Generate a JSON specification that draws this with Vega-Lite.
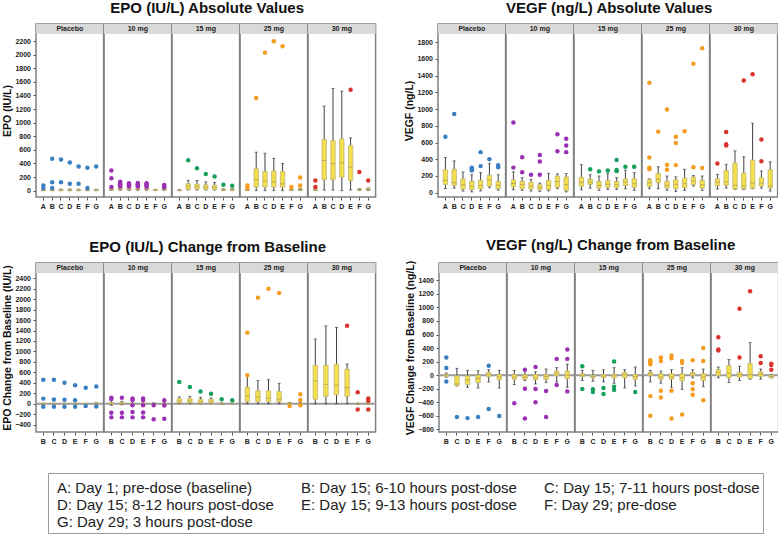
{
"$schema": "https://vega.github.io/schema/vega-lite/v6.json",
"background": "white",
"padding": {"left": 2, "top": 0, "right": 0, "bottom": 0},
"spacing": 28,
"resolve": {"scale": {"shape": "independent"}, "legend": {"shape": "independent"}},
"datasets": {
"ea": [
{"d":"Placebo","t":"A","lo":0,"q1":2,"md":6,"q3":12,"hi":20},
{"d":"Placebo","t":"B","lo":0,"q1":3,"md":8,"q3":16,"hi":25},
{"d":"Placebo","t":"C","lo":0,"q1":3,"md":8,"q3":15,"hi":24},
{"d":"Placebo","t":"D","lo":0,"q1":3,"md":8,"q3":16,"hi":25},
{"d":"Placebo","t":"E","lo":0,"q1":3,"md":8,"q3":15,"hi":22},
{"d":"Placebo","t":"F","lo":0,"q1":3,"md":7,"q3":14,"hi":20},
{"d":"Placebo","t":"G","lo":0,"q1":3,"md":7,"q3":14,"hi":22},
{"d":"10 mg","t":"A","lo":2,"q1":8,"md":15,"q3":25,"hi":35},
{"d":"10 mg","t":"B","lo":5,"q1":15,"md":25,"q3":35,"hi":45},
{"d":"10 mg","t":"C","lo":5,"q1":15,"md":22,"q3":32,"hi":45},
{"d":"10 mg","t":"D","lo":5,"q1":15,"md":22,"q3":32,"hi":45},
{"d":"10 mg","t":"E","lo":5,"q1":15,"md":22,"q3":32,"hi":45},
{"d":"10 mg","t":"F","lo":2,"q1":5,"md":10,"q3":15,"hi":20},
{"d":"10 mg","t":"G","lo":5,"q1":12,"md":20,"q3":30,"hi":40},
{"d":"15 mg","t":"A","lo":0,"q1":3,"md":6,"q3":10,"hi":15},
{"d":"15 mg","t":"B","lo":10,"q1":20,"md":64,"q3":102,"hi":152},
{"d":"15 mg","t":"C","lo":10,"q1":25,"md":60,"q3":95,"hi":150},
{"d":"15 mg","t":"D","lo":10,"q1":20,"md":50,"q3":85,"hi":130},
{"d":"15 mg","t":"E","lo":10,"q1":20,"md":50,"q3":80,"hi":120},
{"d":"15 mg","t":"F","lo":2,"q1":6,"md":12,"q3":20,"hi":28},
{"d":"15 mg","t":"G","lo":2,"q1":8,"md":14,"q3":24,"hi":35},
{"d":"25 mg","t":"A","lo":2,"q1":8,"md":12,"q3":20,"hi":30},
{"d":"25 mg","t":"B","lo":0,"q1":54,"md":161,"q3":322,"hi":566},
{"d":"25 mg","t":"C","lo":0,"q1":54,"md":142,"q3":283,"hi":550},
{"d":"25 mg","t":"D","lo":0,"q1":54,"md":127,"q3":290,"hi":475},
{"d":"25 mg","t":"E","lo":0,"q1":54,"md":102,"q3":283,"hi":400},
{"d":"25 mg","t":"F","lo":2,"q1":8,"md":12,"q3":20,"hi":30},
{"d":"25 mg","t":"G","lo":2,"q1":8,"md":15,"q3":25,"hi":35},
{"d":"30 mg","t":"A","lo":2,"q1":6,"md":10,"q3":18,"hi":25},
{"d":"30 mg","t":"B","lo":8,"q1":161,"md":444,"q3":752,"hi":1244},
{"d":"30 mg","t":"C","lo":8,"q1":161,"md":400,"q3":737,"hi":1503},
{"d":"30 mg","t":"D","lo":0,"q1":200,"md":410,"q3":761,"hi":1464},
{"d":"30 mg","t":"E","lo":10,"q1":151,"md":346,"q3":664,"hi":776},
{"d":"30 mg","t":"F","lo":2,"q1":8,"md":15,"q3":22,"hi":30},
{"d":"30 mg","t":"G","lo":2,"q1":10,"md":18,"q3":30,"hi":40},
{"d":"Placebo","t":"A","v":78},{"d":"Placebo","t":"A","v":39},
{"d":"Placebo","t":"B","v":468},{"d":"Placebo","t":"B","v":125},{"d":"Placebo","t":"B","v":39},
{"d":"Placebo","t":"C","v":458},{"d":"Placebo","t":"C","v":125},
{"d":"Placebo","t":"D","v":415},{"d":"Placebo","t":"D","v":102},
{"d":"Placebo","t":"E","v":356},{"d":"Placebo","t":"E","v":102},
{"d":"Placebo","t":"F","v":337},{"d":"Placebo","t":"F","v":39},
{"d":"Placebo","t":"G","v":356},
{"d":"10 mg","t":"A","v":298},{"d":"10 mg","t":"A","v":183},{"d":"10 mg","t":"A","v":54},
{"d":"10 mg","t":"B","v":130},{"d":"10 mg","t":"B","v":112},{"d":"10 mg","t":"B","v":95},{"d":"10 mg","t":"B","v":78},{"d":"10 mg","t":"B","v":60},
{"d":"10 mg","t":"C","v":110},{"d":"10 mg","t":"C","v":95},{"d":"10 mg","t":"C","v":78},{"d":"10 mg","t":"C","v":60},
{"d":"10 mg","t":"D","v":112},{"d":"10 mg","t":"D","v":95},{"d":"10 mg","t":"D","v":78},{"d":"10 mg","t":"D","v":60},
{"d":"10 mg","t":"E","v":110},{"d":"10 mg","t":"E","v":92},{"d":"10 mg","t":"E","v":75},{"d":"10 mg","t":"E","v":58},
{"d":"10 mg","t":"G","v":85},{"d":"10 mg","t":"G","v":68},{"d":"10 mg","t":"G","v":50},
{"d":"15 mg","t":"B","v":449},{"d":"15 mg","t":"C","v":330},{"d":"15 mg","t":"D","v":244},{"d":"15 mg","t":"E","v":210},{"d":"15 mg","t":"F","v":88},{"d":"15 mg","t":"G","v":73},
{"d":"25 mg","t":"A","v":78},{"d":"25 mg","t":"A","v":39},
{"d":"25 mg","t":"B","v":1362},{"d":"25 mg","t":"C","v":2030},{"d":"25 mg","t":"D","v":2196},{"d":"25 mg","t":"E","v":2123},
{"d":"25 mg","t":"F","v":55},{"d":"25 mg","t":"G","v":195},{"d":"25 mg","t":"G","v":75},
{"d":"30 mg","t":"A","v":151},{"d":"30 mg","t":"A","v":54},
{"d":"30 mg","t":"E","v":1484},{"d":"30 mg","t":"F","v":273},{"d":"30 mg","t":"G","v":151}
],
"va": [
{"d":"Placebo","t":"A","lo":50,"q1":100,"md":148,"q3":275,"hi":420},
{"d":"Placebo","t":"B","lo":55,"q1":88,"md":120,"q3":280,"hi":380},
{"d":"Placebo","t":"C","lo":20,"q1":45,"md":95,"q3":165,"hi":248},
{"d":"Placebo","t":"D","lo":10,"q1":38,"md":80,"q3":136,"hi":215},
{"d":"Placebo","t":"E","lo":22,"q1":45,"md":88,"q3":148,"hi":240},
{"d":"Placebo","t":"F","lo":60,"q1":80,"md":150,"q3":208,"hi":348},
{"d":"Placebo","t":"G","lo":30,"q1":48,"md":92,"q3":136,"hi":215},
{"d":"10 mg","t":"A","lo":35,"q1":70,"md":110,"q3":155,"hi":250},
{"d":"10 mg","t":"B","lo":28,"q1":48,"md":96,"q3":136,"hi":180},
{"d":"10 mg","t":"C","lo":20,"q1":45,"md":80,"q3":125,"hi":160},
{"d":"10 mg","t":"D","lo":16,"q1":35,"md":60,"q3":96,"hi":115},
{"d":"10 mg","t":"E","lo":22,"q1":40,"md":88,"q3":148,"hi":232},
{"d":"10 mg","t":"F","lo":48,"q1":65,"md":135,"q3":200,"hi":225},
{"d":"10 mg","t":"G","lo":10,"q1":28,"md":96,"q3":188,"hi":230},
{"d":"15 mg","t":"A","lo":35,"q1":78,"md":125,"q3":185,"hi":335},
{"d":"15 mg","t":"B","lo":55,"q1":100,"md":125,"q3":160,"hi":215},
{"d":"15 mg","t":"C","lo":28,"q1":56,"md":88,"q3":136,"hi":200},
{"d":"15 mg","t":"D","lo":40,"q1":65,"md":100,"q3":148,"hi":230},
{"d":"15 mg","t":"E","lo":40,"q1":60,"md":96,"q3":136,"hi":180},
{"d":"15 mg","t":"F","lo":48,"q1":88,"md":128,"q3":165,"hi":270},
{"d":"15 mg","t":"G","lo":28,"q1":65,"md":108,"q3":168,"hi":240},
{"d":"25 mg","t":"A","lo":48,"q1":75,"md":115,"q3":155,"hi":165},
{"d":"25 mg","t":"B","lo":48,"q1":120,"md":160,"q3":228,"hi":310},
{"d":"25 mg","t":"C","lo":28,"q1":56,"md":88,"q3":136,"hi":200},
{"d":"25 mg","t":"D","lo":16,"q1":48,"md":100,"q3":156,"hi":190},
{"d":"25 mg","t":"E","lo":28,"q1":60,"md":108,"q3":176,"hi":280},
{"d":"25 mg","t":"F","lo":80,"q1":96,"md":140,"q3":188,"hi":205},
{"d":"25 mg","t":"G","lo":28,"q1":56,"md":96,"q3":148,"hi":200},
{"d":"30 mg","t":"A","lo":45,"q1":85,"md":125,"q3":165,"hi":220},
{"d":"30 mg","t":"B","lo":55,"q1":90,"md":130,"q3":265,"hi":340},
{"d":"30 mg","t":"C","lo":40,"q1":45,"md":90,"q3":355,"hi":500},
{"d":"30 mg","t":"D","lo":40,"q1":48,"md":80,"q3":235,"hi":430},
{"d":"30 mg","t":"E","lo":48,"q1":55,"md":115,"q3":390,"hi":830},
{"d":"30 mg","t":"F","lo":55,"q1":80,"md":115,"q3":180,"hi":260},
{"d":"30 mg","t":"G","lo":20,"q1":55,"md":80,"q3":275,"hi":370},
{"d":"Placebo","t":"A","v":670},{"d":"Placebo","t":"B","v":940},
{"d":"Placebo","t":"D","v":300},{"d":"Placebo","t":"D","v":282},{"d":"Placebo","t":"D","v":265},
{"d":"Placebo","t":"E","v":485},{"d":"Placebo","t":"E","v":318},
{"d":"Placebo","t":"F","v":400},{"d":"Placebo","t":"G","v":330},{"d":"Placebo","t":"G","v":305},
{"d":"10 mg","t":"A","v":840},{"d":"10 mg","t":"A","v":300},
{"d":"10 mg","t":"B","v":425},{"d":"10 mg","t":"B","v":245},
{"d":"10 mg","t":"C","v":215},
{"d":"10 mg","t":"D","v":450},{"d":"10 mg","t":"D","v":372},{"d":"10 mg","t":"D","v":215},
{"d":"10 mg","t":"F","v":700},{"d":"10 mg","t":"F","v":495},
{"d":"10 mg","t":"G","v":645},{"d":"10 mg","t":"G","v":565},{"d":"10 mg","t":"G","v":485},
{"d":"15 mg","t":"B","v":280},{"d":"15 mg","t":"C","v":255},{"d":"15 mg","t":"D","v":265},
{"d":"15 mg","t":"E","v":390},{"d":"15 mg","t":"E","v":272},{"d":"15 mg","t":"E","v":258},
{"d":"15 mg","t":"F","v":310},{"d":"15 mg","t":"G","v":310},
{"d":"25 mg","t":"A","v":1315},{"d":"25 mg","t":"A","v":420},{"d":"25 mg","t":"A","v":300},{"d":"25 mg","t":"A","v":282},
{"d":"25 mg","t":"B","v":730},
{"d":"25 mg","t":"C","v":995},{"d":"25 mg","t":"C","v":335},{"d":"25 mg","t":"C","v":275},
{"d":"25 mg","t":"D","v":670},{"d":"25 mg","t":"D","v":595},{"d":"25 mg","t":"D","v":330},
{"d":"25 mg","t":"E","v":735},
{"d":"25 mg","t":"F","v":1540},{"d":"25 mg","t":"F","v":305},
{"d":"25 mg","t":"G","v":1725},{"d":"25 mg","t":"G","v":295},
{"d":"30 mg","t":"A","v":350},
{"d":"30 mg","t":"B","v":725},{"d":"30 mg","t":"B","v":580},{"d":"30 mg","t":"B","v":565},
{"d":"30 mg","t":"D","v":1340},{"d":"30 mg","t":"E","v":1415},
{"d":"30 mg","t":"F","v":635},{"d":"30 mg","t":"F","v":375}
],
"ec": [
{"d":"Placebo","t":"B","lo":-10,"q1":-5,"md":0,"q3":5,"hi":10},
{"d":"Placebo","t":"C","lo":-5,"q1":-2,"md":0,"q3":5,"hi":8},
{"d":"Placebo","t":"D","lo":-5,"q1":-2,"md":0,"q3":5,"hi":8},
{"d":"Placebo","t":"E","lo":-5,"q1":-2,"md":0,"q3":4,"hi":8},
{"d":"Placebo","t":"F","lo":-8,"q1":-3,"md":0,"q3":3,"hi":6},
{"d":"Placebo","t":"G","lo":-5,"q1":0,"md":5,"q3":15,"hi":20},
{"d":"10 mg","t":"B","lo":-30,"q1":-5,"md":8,"q3":20,"hi":60},
{"d":"10 mg","t":"C","lo":-20,"q1":-5,"md":5,"q3":18,"hi":45},
{"d":"10 mg","t":"D","lo":-15,"q1":-5,"md":3,"q3":15,"hi":40},
{"d":"10 mg","t":"E","lo":-15,"q1":-5,"md":3,"q3":15,"hi":40},
{"d":"10 mg","t":"F","lo":-10,"q1":-5,"md":0,"q3":5,"hi":15},
{"d":"10 mg","t":"G","lo":-10,"q1":-3,"md":2,"q3":8,"hi":20},
{"d":"15 mg","t":"B","lo":0,"q1":13,"md":52,"q3":97,"hi":130},
{"d":"15 mg","t":"C","lo":0,"q1":15,"md":50,"q3":95,"hi":140},
{"d":"15 mg","t":"D","lo":0,"q1":10,"md":45,"q3":85,"hi":120},
{"d":"15 mg","t":"E","lo":0,"q1":10,"md":45,"q3":85,"hi":110},
{"d":"15 mg","t":"F","lo":-5,"q1":0,"md":3,"q3":10,"hi":15},
{"d":"15 mg","t":"G","lo":-5,"q1":0,"md":3,"q3":8,"hi":12},
{"d":"25 mg","t":"B","lo":0,"q1":39,"md":148,"q3":316,"hi":530},
{"d":"25 mg","t":"C","lo":0,"q1":39,"md":135,"q3":245,"hi":445},
{"d":"25 mg","t":"D","lo":0,"q1":39,"md":103,"q3":245,"hi":460},
{"d":"25 mg","t":"E","lo":0,"q1":39,"md":84,"q3":232,"hi":390},
{"d":"25 mg","t":"F","lo":-5,"q1":0,"md":5,"q3":15,"hi":25},
{"d":"25 mg","t":"G","lo":-10,"q1":-5,"md":0,"q3":10,"hi":20},
{"d":"30 mg","t":"B","lo":0,"q1":84,"md":440,"q3":735,"hi":1240},
{"d":"30 mg","t":"C","lo":0,"q1":140,"md":370,"q3":735,"hi":1490},
{"d":"30 mg","t":"D","lo":0,"q1":170,"md":355,"q3":755,"hi":1460},
{"d":"30 mg","t":"E","lo":0,"q1":140,"md":310,"q3":660,"hi":760},
{"d":"30 mg","t":"F","lo":-10,"q1":-5,"md":0,"q3":5,"hi":10},
{"d":"30 mg","t":"G","lo":-5,"q1":0,"md":10,"q3":25,"hi":40},
{"d":"Placebo","t":"B","v":458},{"d":"Placebo","t":"B","v":97},{"d":"Placebo","t":"B","v":-58},
{"d":"Placebo","t":"C","v":458},{"d":"Placebo","t":"C","v":80},{"d":"Placebo","t":"C","v":-58},
{"d":"Placebo","t":"D","v":400},{"d":"Placebo","t":"D","v":75},{"d":"Placebo","t":"D","v":-58},
{"d":"Placebo","t":"E","v":355},{"d":"Placebo","t":"E","v":68},{"d":"Placebo","t":"E","v":-58},
{"d":"Placebo","t":"F","v":303},{"d":"Placebo","t":"F","v":-45},
{"d":"Placebo","t":"G","v":329},{"d":"Placebo","t":"G","v":-55},
{"d":"10 mg","t":"B","v":112},{"d":"10 mg","t":"B","v":88},{"d":"10 mg","t":"B","v":-175},{"d":"10 mg","t":"B","v":-262},
{"d":"10 mg","t":"C","v":115},{"d":"10 mg","t":"C","v":-175},{"d":"10 mg","t":"C","v":-262},
{"d":"10 mg","t":"D","v":100},{"d":"10 mg","t":"D","v":72},{"d":"10 mg","t":"D","v":-28},{"d":"10 mg","t":"D","v":-160},{"d":"10 mg","t":"D","v":-262},
{"d":"10 mg","t":"E","v":100},{"d":"10 mg","t":"E","v":70},{"d":"10 mg","t":"E","v":-30},{"d":"10 mg","t":"E","v":-170},{"d":"10 mg","t":"E","v":-262},
{"d":"10 mg","t":"F","v":-32},{"d":"10 mg","t":"F","v":-300},
{"d":"10 mg","t":"G","v":68},{"d":"10 mg","t":"G","v":-35},{"d":"10 mg","t":"G","v":-290},
{"d":"15 mg","t":"B","v":415},{"d":"15 mg","t":"C","v":320},{"d":"15 mg","t":"D","v":235},{"d":"15 mg","t":"E","v":190},{"d":"15 mg","t":"F","v":85},{"d":"15 mg","t":"G","v":65},
{"d":"25 mg","t":"B","v":1360},{"d":"25 mg","t":"B","v":545},{"d":"25 mg","t":"C","v":2030},{"d":"25 mg","t":"D","v":2200},{"d":"25 mg","t":"E","v":2120},
{"d":"25 mg","t":"F","v":-45},{"d":"25 mg","t":"G","v":180},{"d":"25 mg","t":"G","v":70},{"d":"25 mg","t":"G","v":-30},
{"d":"30 mg","t":"E","v":1490},{"d":"30 mg","t":"F","v":220},{"d":"30 mg","t":"F","v":-110},
{"d":"30 mg","t":"G","v":100},{"d":"30 mg","t":"G","v":55},{"d":"30 mg","t":"G","v":-110}
],
"vc": [
{"d":"Placebo","t":"B","lo":-30,"q1":-20,"md":0,"q3":10,"hi":30},
{"d":"Placebo","t":"C","lo":-160,"q1":-150,"md":-130,"q3":-10,"hi":100},
{"d":"Placebo","t":"D","lo":-180,"q1":-140,"md":-70,"q3":-10,"hi":70},
{"d":"Placebo","t":"E","lo":-190,"q1":-110,"md":-50,"q3":0,"hi":65},
{"d":"Placebo","t":"F","lo":-100,"q1":-25,"md":10,"q3":40,"hi":80},
{"d":"Placebo","t":"G","lo":-190,"q1":-70,"md":-30,"q3":10,"hi":70},
{"d":"10 mg","t":"B","lo":-140,"q1":-60,"md":-30,"q3":10,"hi":70},
{"d":"10 mg","t":"C","lo":-80,"q1":-60,"md":-30,"q3":5,"hi":70},
{"d":"10 mg","t":"D","lo":-130,"q1":-70,"md":-40,"q3":10,"hi":50},
{"d":"10 mg","t":"E","lo":-110,"q1":-60,"md":-20,"q3":10,"hi":90},
{"d":"10 mg","t":"F","lo":-100,"q1":-10,"md":30,"q3":60,"hi":110},
{"d":"10 mg","t":"G","lo":-180,"q1":-50,"md":0,"q3":60,"hi":160},
{"d":"15 mg","t":"B","lo":-80,"q1":-20,"md":0,"q3":20,"hi":70},
{"d":"15 mg","t":"C","lo":-90,"q1":-40,"md":-20,"q3":0,"hi":70},
{"d":"15 mg","t":"D","lo":-100,"q1":-40,"md":-15,"q3":10,"hi":80},
{"d":"15 mg","t":"E","lo":-120,"q1":-40,"md":-10,"q3":15,"hi":110},
{"d":"15 mg","t":"F","lo":-190,"q1":-40,"md":10,"q3":40,"hi":80},
{"d":"15 mg","t":"G","lo":-160,"q1":-60,"md":-20,"q3":10,"hi":120},
{"d":"25 mg","t":"B","lo":-100,"q1":-10,"md":20,"q3":40,"hi":70},
{"d":"25 mg","t":"C","lo":-120,"q1":-60,"md":-30,"q3":20,"hi":60},
{"d":"25 mg","t":"D","lo":-180,"q1":-60,"md":-30,"q3":20,"hi":80},
{"d":"25 mg","t":"E","lo":-210,"q1":-80,"md":-40,"q3":20,"hi":110},
{"d":"25 mg","t":"F","lo":-40,"q1":-10,"md":20,"q3":40,"hi":80},
{"d":"25 mg","t":"G","lo":-170,"q1":-80,"md":-30,"q3":20,"hi":90},
{"d":"30 mg","t":"B","lo":-40,"q1":-10,"md":40,"q3":80,"hi":120},
{"d":"30 mg","t":"C","lo":-110,"q1":-40,"md":30,"q3":140,"hi":230},
{"d":"30 mg","t":"D","lo":-80,"q1":-30,"md":10,"q3":40,"hi":130},
{"d":"30 mg","t":"E","lo":-60,"q1":-50,"md":10,"q3":170,"hi":480},
{"d":"30 mg","t":"F","lo":-60,"q1":-20,"md":20,"q3":50,"hi":90},
{"d":"30 mg","t":"G","lo":-40,"q1":-40,"md":-20,"q3":0,"hi":10},
{"d":"Placebo","t":"B","v":260},{"d":"Placebo","t":"B","v":105},{"d":"Placebo","t":"B","v":-95},
{"d":"Placebo","t":"C","v":-620},{"d":"Placebo","t":"D","v":-635},{"d":"Placebo","t":"E","v":-620},
{"d":"Placebo","t":"F","v":140},{"d":"Placebo","t":"F","v":-500},{"d":"Placebo","t":"G","v":-605},
{"d":"10 mg","t":"B","v":-415},
{"d":"10 mg","t":"C","v":80},{"d":"10 mg","t":"C","v":-200},{"d":"10 mg","t":"C","v":-640},
{"d":"10 mg","t":"D","v":120},{"d":"10 mg","t":"D","v":-205},{"d":"10 mg","t":"D","v":-400},
{"d":"10 mg","t":"E","v":-235},{"d":"10 mg","t":"E","v":-620},
{"d":"10 mg","t":"F","v":240},{"d":"10 mg","t":"F","v":-145},
{"d":"10 mg","t":"G","v":380},{"d":"10 mg","t":"G","v":240},{"d":"10 mg","t":"G","v":-240},
{"d":"15 mg","t":"B","v":130},{"d":"15 mg","t":"B","v":-205},
{"d":"15 mg","t":"C","v":-210},{"d":"15 mg","t":"C","v":-250},
{"d":"15 mg","t":"D","v":-190},{"d":"15 mg","t":"D","v":-280},
{"d":"15 mg","t":"E","v":200},{"d":"15 mg","t":"E","v":-170},{"d":"15 mg","t":"E","v":-220},
{"d":"15 mg","t":"G","v":-250},
{"d":"25 mg","t":"B","v":220},{"d":"25 mg","t":"B","v":200},{"d":"25 mg","t":"B","v":180},{"d":"25 mg","t":"B","v":160},{"d":"25 mg","t":"B","v":-310},{"d":"25 mg","t":"B","v":-600},
{"d":"25 mg","t":"C","v":260},{"d":"25 mg","t":"C","v":210},{"d":"25 mg","t":"C","v":-230},{"d":"25 mg","t":"C","v":-330},
{"d":"25 mg","t":"D","v":290},{"d":"25 mg","t":"D","v":250},{"d":"25 mg","t":"D","v":-230},{"d":"25 mg","t":"D","v":-640},
{"d":"25 mg","t":"E","v":210},{"d":"25 mg","t":"E","v":180},{"d":"25 mg","t":"E","v":-580},
{"d":"25 mg","t":"F","v":220},{"d":"25 mg","t":"F","v":-120},{"d":"25 mg","t":"F","v":-210},{"d":"25 mg","t":"F","v":-290},
{"d":"25 mg","t":"G","v":400},{"d":"25 mg","t":"G","v":210},{"d":"25 mg","t":"G","v":-370},
{"d":"30 mg","t":"B","v":560},{"d":"30 mg","t":"B","v":380},{"d":"30 mg","t":"B","v":365},
{"d":"30 mg","t":"D","v":980},{"d":"30 mg","t":"D","v":260},
{"d":"30 mg","t":"E","v":1240},
{"d":"30 mg","t":"F","v":280},{"d":"30 mg","t":"F","v":180},
{"d":"30 mg","t":"G","v":170},{"d":"30 mg","t":"G","v":150},{"d":"30 mg","t":"G","v":80}
]
},
"vconcat": [
{"hconcat": [
{"title": {"text": "EPO (IU/L) Absolute Values"},
 "data": {"name": "ea"},
 "facet": {"column": {"field": "d", "type": "nominal", "sort": ["Placebo","10 mg","15 mg","25 mg","30 mg"], "header": {"labels": false, "title": null}}},
 "spacing": 0, "bounds": "flush",
 "spec": {"width": 67.6, "height": 173, "layer": [
  {"transform": [{"aggregate": [{"op": "count", "as": "n"}], "groupby": ["d"]}], "mark": {"type": "rect", "fill": "#d9d9d9"},
   "encoding": {"y": {"datum": 2304, "type": "quantitative", "scale": {"domain": [-93, 2451], "nice": false, "zero": false}, "axis": {"title": "EPO (IU/L)", "labelOverlap": false, "tickCount": 40, "values": [0,200,400,600,800,1000,1200,1400,1600,1800,2000,2200]}}, "y2": {"datum": 2451}}},
  {"transform": [{"aggregate": [{"op": "count", "as": "n"}], "groupby": ["d"]}], "mark": {"type": "text", "fontSize": 7, "fontWeight": "bold", "color": "#222222"},
   "encoding": {"y": {"datum": 2378, "type": "quantitative"}, "text": {"field": "d"}}},
  {"transform": [{"filter": "isValid(datum.lo)"}], "mark": {"type": "rule", "color": "#404040", "strokeWidth": 1},
   "encoding": {"x": {"field": "t", "type": "nominal", "title": null, "scale": {"domain": ["A","B","C","D","E","F","G"], "paddingInner": 0.5, "paddingOuter": 0.59}}, "y": {"field": "lo", "type": "quantitative"}, "y2": {"field": "hi"}}},
  {"transform": [{"filter": "isValid(datum.lo)"}], "mark": {"type": "tick", "color": "#404040", "thickness": 1, "size": 3},
   "encoding": {"x": {"field": "t", "type": "nominal"}, "y": {"field": "hi", "type": "quantitative"}}},
  {"transform": [{"filter": "isValid(datum.lo)"}], "mark": {"type": "tick", "color": "#404040", "thickness": 1, "size": 3},
   "encoding": {"x": {"field": "t", "type": "nominal"}, "y": {"field": "lo", "type": "quantitative"}}},
  {"transform": [{"filter": "isValid(datum.lo)"}], "mark": {"type": "bar", "fill": "#f3df4b", "stroke": "#c2b67a", "strokeWidth": 0.8},
   "encoding": {"x": {"field": "t", "type": "nominal"}, "y": {"field": "q1", "type": "quantitative"}, "y2": {"field": "q3"}}},
  {"transform": [{"filter": "isValid(datum.lo)"}], "mark": {"type": "tick", "color": "#a99657", "thickness": 1, "size": 4.5},
   "encoding": {"x": {"field": "t", "type": "nominal"}, "y": {"field": "md", "type": "quantitative"}}},
  {"transform": [{"filter": "isValid(datum.v)"}], "mark": {"type": "circle", "size": 20, "opacity": 1},
   "encoding": {"x": {"field": "t", "type": "nominal"}, "y": {"field": "v", "type": "quantitative"},
    "color": {"field": "d", "type": "nominal", "scale": {"domain": ["Placebo","10 mg","15 mg","25 mg","30 mg"], "range": ["#3a7fc1","#9b30b5","#17a05d","#f39c1f","#d9342b"]}, "legend": null}}}
 ]}},
{"title": {"text": "VEGF (ng/L) Absolute Values"},
 "data": {"name": "va"},
 "facet": {"column": {"field": "d", "type": "nominal", "sort": ["Placebo","10 mg","15 mg","25 mg","30 mg"], "header": {"labels": false, "title": null}}},
 "spacing": 0, "bounds": "flush",
 "spec": {"width": 67.6, "height": 173, "layer": [
  {"transform": [{"aggregate": [{"op": "count", "as": "n"}], "groupby": ["d"]}], "mark": {"type": "rect", "fill": "#d9d9d9"},
   "encoding": {"y": {"datum": 1897, "type": "quantitative", "scale": {"domain": [-51, 2016], "nice": false, "zero": false}, "axis": {"title": "VEGF (ng/L)", "labelOverlap": false, "tickCount": 40, "values": [0,200,400,600,800,1000,1200,1400,1600,1800]}}, "y2": {"datum": 2016}}},
  {"transform": [{"aggregate": [{"op": "count", "as": "n"}], "groupby": ["d"]}], "mark": {"type": "text", "fontSize": 7, "fontWeight": "bold", "color": "#222222"},
   "encoding": {"y": {"datum": 1956, "type": "quantitative"}, "text": {"field": "d"}}},
  {"transform": [{"filter": "isValid(datum.lo)"}], "mark": {"type": "rule", "color": "#404040", "strokeWidth": 1},
   "encoding": {"x": {"field": "t", "type": "nominal", "title": null, "scale": {"domain": ["A","B","C","D","E","F","G"], "paddingInner": 0.5, "paddingOuter": 0.59}}, "y": {"field": "lo", "type": "quantitative"}, "y2": {"field": "hi"}}},
  {"transform": [{"filter": "isValid(datum.lo)"}], "mark": {"type": "tick", "color": "#404040", "thickness": 1, "size": 3},
   "encoding": {"x": {"field": "t", "type": "nominal"}, "y": {"field": "hi", "type": "quantitative"}}},
  {"transform": [{"filter": "isValid(datum.lo)"}], "mark": {"type": "tick", "color": "#404040", "thickness": 1, "size": 3},
   "encoding": {"x": {"field": "t", "type": "nominal"}, "y": {"field": "lo", "type": "quantitative"}}},
  {"transform": [{"filter": "isValid(datum.lo)"}], "mark": {"type": "bar", "fill": "#f3df4b", "stroke": "#c2b67a", "strokeWidth": 0.8},
   "encoding": {"x": {"field": "t", "type": "nominal"}, "y": {"field": "q1", "type": "quantitative"}, "y2": {"field": "q3"}}},
  {"transform": [{"filter": "isValid(datum.lo)"}], "mark": {"type": "tick", "color": "#a99657", "thickness": 1, "size": 4.5},
   "encoding": {"x": {"field": "t", "type": "nominal"}, "y": {"field": "md", "type": "quantitative"}}},
  {"transform": [{"filter": "isValid(datum.v)"}], "mark": {"type": "circle", "size": 20, "opacity": 1},
   "encoding": {"x": {"field": "t", "type": "nominal"}, "y": {"field": "v", "type": "quantitative"},
    "color": {"field": "d", "type": "nominal", "scale": {"domain": ["Placebo","10 mg","15 mg","25 mg","30 mg"], "range": ["#3a7fc1","#9b30b5","#17a05d","#f39c1f","#d9342b"]}, "legend": null}}}
 ]}}
], "spacing": 27},
{"hconcat": [
{"title": {"text": "EPO (IU/L) Change from Baseline"},
 "data": {"name": "ec"},
 "facet": {"column": {"field": "d", "type": "nominal", "sort": ["Placebo","10 mg","15 mg","25 mg","30 mg"], "header": {"labels": false, "title": null}}},
 "spacing": 0, "bounds": "flush",
 "spec": {"width": 67.6, "height": 169, "layer": [
  {"transform": [{"aggregate": [{"op": "count", "as": "n"}], "groupby": ["d"]}], "mark": {"type": "rect", "fill": "#d9d9d9"},
   "encoding": {"y": {"datum": 2501, "type": "quantitative", "scale": {"domain": [-542, 2693], "nice": false, "zero": false}, "axis": {"title": "EPO Change from Baseline (IU/L)", "labelOverlap": false, "tickCount": 40, "values": [-400,-200,0,200,400,600,800,1000,1200,1400,1600,1800,2000,2200,2400]}}, "y2": {"datum": 2693}}},
  {"transform": [{"aggregate": [{"op": "count", "as": "n"}], "groupby": ["d"]}], "mark": {"type": "text", "fontSize": 7, "fontWeight": "bold", "color": "#222222"},
   "encoding": {"y": {"datum": 2597, "type": "quantitative"}, "text": {"field": "d"}}},
  {"transform": [{"aggregate": [{"op": "count", "as": "n"}], "groupby": ["d"]}], "mark": {"type": "rule", "color": "#9a9a9a", "strokeWidth": 2},
   "encoding": {"y": {"datum": 0, "type": "quantitative"}}},
  {"transform": [{"filter": "isValid(datum.lo)"}], "mark": {"type": "rule", "color": "#404040", "strokeWidth": 1},
   "encoding": {"x": {"field": "t", "type": "nominal", "title": null, "scale": {"domain": ["B","C","D","E","F","G"], "paddingInner": 0.58, "paddingOuter": 0.48}}, "y": {"field": "lo", "type": "quantitative"}, "y2": {"field": "hi"}}},
  {"transform": [{"filter": "isValid(datum.lo)"}], "mark": {"type": "tick", "color": "#404040", "thickness": 1, "size": 3},
   "encoding": {"x": {"field": "t", "type": "nominal"}, "y": {"field": "hi", "type": "quantitative"}}},
  {"transform": [{"filter": "isValid(datum.lo)"}], "mark": {"type": "tick", "color": "#404040", "thickness": 1, "size": 3},
   "encoding": {"x": {"field": "t", "type": "nominal"}, "y": {"field": "lo", "type": "quantitative"}}},
  {"transform": [{"filter": "isValid(datum.lo)"}], "mark": {"type": "bar", "fill": "#f3df4b", "stroke": "#c2b67a", "strokeWidth": 0.8},
   "encoding": {"x": {"field": "t", "type": "nominal"}, "y": {"field": "q1", "type": "quantitative"}, "y2": {"field": "q3"}}},
  {"transform": [{"filter": "isValid(datum.lo)"}], "mark": {"type": "tick", "color": "#a99657", "thickness": 1, "size": 4.5},
   "encoding": {"x": {"field": "t", "type": "nominal"}, "y": {"field": "md", "type": "quantitative"}}},
  {"transform": [{"filter": "isValid(datum.v)"}], "mark": {"type": "circle", "size": 20, "opacity": 1},
   "encoding": {"x": {"field": "t", "type": "nominal"}, "y": {"field": "v", "type": "quantitative"},
    "color": {"field": "d", "type": "nominal", "scale": {"domain": ["Placebo","10 mg","15 mg","25 mg","30 mg"], "range": ["#3a7fc1","#9b30b5","#17a05d","#f39c1f","#d9342b"]}, "legend": null}}}
 ]}},
{"title": {"text": "VEGF (ng/L) Change from Baseline"},
 "data": {"name": "vc"},
 "facet": {"column": {"field": "d", "type": "nominal", "sort": ["Placebo","10 mg","15 mg","25 mg","30 mg"], "header": {"labels": false, "title": null}}},
 "spacing": 0, "bounds": "flush",
 "spec": {"width": 67.6, "height": 169, "layer": [
  {"transform": [{"aggregate": [{"op": "count", "as": "n"}], "groupby": ["d"]}], "mark": {"type": "rect", "fill": "#d9d9d9"},
   "encoding": {"y": {"datum": 1508, "type": "quantitative", "scale": {"domain": [-840, 1656], "nice": false, "zero": false}, "axis": {"title": "VEGF Change from Baseline (ng/L)", "labelOverlap": false, "tickCount": 40, "values": [-800,-600,-400,-200,0,200,400,600,800,1000,1200,1400]}}, "y2": {"datum": 1656}}},
  {"transform": [{"aggregate": [{"op": "count", "as": "n"}], "groupby": ["d"]}], "mark": {"type": "text", "fontSize": 7, "fontWeight": "bold", "color": "#222222"},
   "encoding": {"y": {"datum": 1582, "type": "quantitative"}, "text": {"field": "d"}}},
  {"transform": [{"aggregate": [{"op": "count", "as": "n"}], "groupby": ["d"]}], "mark": {"type": "rule", "color": "#9a9a9a", "strokeWidth": 2},
   "encoding": {"y": {"datum": 0, "type": "quantitative"}}},
  {"transform": [{"filter": "isValid(datum.lo)"}], "mark": {"type": "rule", "color": "#404040", "strokeWidth": 1},
   "encoding": {"x": {"field": "t", "type": "nominal", "title": null, "scale": {"domain": ["B","C","D","E","F","G"], "paddingInner": 0.58, "paddingOuter": 0.48}}, "y": {"field": "lo", "type": "quantitative"}, "y2": {"field": "hi"}}},
  {"transform": [{"filter": "isValid(datum.lo)"}], "mark": {"type": "tick", "color": "#404040", "thickness": 1, "size": 3},
   "encoding": {"x": {"field": "t", "type": "nominal"}, "y": {"field": "hi", "type": "quantitative"}}},
  {"transform": [{"filter": "isValid(datum.lo)"}], "mark": {"type": "tick", "color": "#404040", "thickness": 1, "size": 3},
   "encoding": {"x": {"field": "t", "type": "nominal"}, "y": {"field": "lo", "type": "quantitative"}}},
  {"transform": [{"filter": "isValid(datum.lo)"}], "mark": {"type": "bar", "fill": "#f3df4b", "stroke": "#c2b67a", "strokeWidth": 0.8},
   "encoding": {"x": {"field": "t", "type": "nominal"}, "y": {"field": "q1", "type": "quantitative"}, "y2": {"field": "q3"}}},
  {"transform": [{"filter": "isValid(datum.lo)"}], "mark": {"type": "tick", "color": "#a99657", "thickness": 1, "size": 4.5},
   "encoding": {"x": {"field": "t", "type": "nominal"}, "y": {"field": "md", "type": "quantitative"}}},
  {"transform": [{"filter": "isValid(datum.v)"}], "mark": {"type": "circle", "size": 20, "opacity": 1},
   "encoding": {"x": {"field": "t", "type": "nominal"}, "y": {"field": "v", "type": "quantitative"},
    "color": {"field": "d", "type": "nominal", "scale": {"domain": ["Placebo","10 mg","15 mg","25 mg","30 mg"], "range": ["#3a7fc1","#9b30b5","#17a05d","#f39c1f","#d9342b"]}, "legend": null}}}
 ]}}
], "spacing": 27},
{"width": 700, "height": 62, "view": {"stroke": null},
 "data": {"values": [
  {"lab": "A: Day 1; pre-dose (baseline)"},
  {"lab": "B: Day 15; 6-10 hours post-dose"},
  {"lab": "C: Day 15; 7-11 hours post-dose"},
  {"lab": "D: Day 15; 8-12 hours post-dose"},
  {"lab": "E: Day 15; 9-13 hours post-dose"},
  {"lab": "F: Day 29; pre-dose"},
  {"lab": "G: Day 29; 3 hours post-dose"}
 ]},
 "mark": {"type": "point", "opacity": 0},
 "encoding": {"shape": {"field": "lab", "type": "nominal", "legend": {"orient": "none", "legendX": 12, "legendY": -10, "direction": "horizontal", "columns": 3, "title": " ", "titleFontSize": 4, "titlePadding": 0, "strokeColor": "#9a9a9a", "padding": 3, "labelFont": "Liberation Sans", "labelFontSize": 15, "labelColor": "#222222", "labelLimit": 0, "symbolSize": 0, "symbolStrokeWidth": 0, "symbolOpacity": 0, "labelOffset": -9, "columnPadding": 21, "rowPadding": 1}}}}
],
"config": {
 "font": "Liberation Sans",
 "view": {"stroke": "#808080", "strokeWidth": 1.5},
 "title": {"anchor": "middle", "frame": "bounds", "dx": 18, "fontSize": 15, "fontWeight": "bold", "font": "Liberation Sans", "color": "#111111", "offset": 7.5},
 "axis": {"labelFont": "Liberation Sans", "labelFontWeight": "bold", "labelFontSize": 7, "labelColor": "#222222", "tickColor": "#555555", "tickSize": 3, "grid": false, "domain": false, "titleFont": "Liberation Sans", "titleFontWeight": "bold", "titleFontSize": 10.5, "titleColor": "#111111"},
 "axisX": {"labelAngle": 0, "labelPadding": 2},
 "axisY": {"labelPadding": 2.5, "minExtent": 21, "maxExtent": 21, "titlePadding": 3, "format": "d", "labelOverlap": false}
}
}
